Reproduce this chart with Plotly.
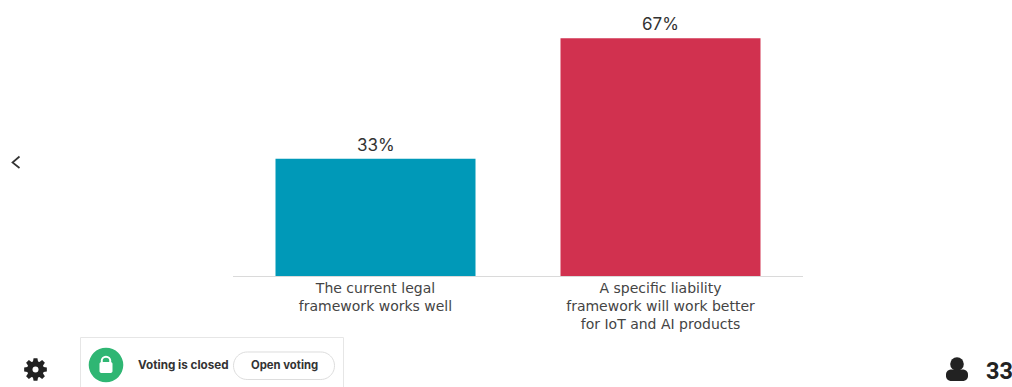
import math
import plotly.graph_objects as go

categories = ["The current legal<br>framework works well",
              "A specific liability<br>framework will work better<br>for IoT and AI products"]
shares = [33, 67]
bar_colors = ["#0099B8", "#D1314F"]
respondents = "33"

W, H = 1012, 387
LEFT, RIGHT, BASE = 233, 803, 276
FONT = "Inter, Roboto, sans-serif"
LABEL_FONT = "DejaVu Sans, sans-serif"


def fx(x):
    return (x - LEFT) / (RIGHT - LEFT)


def fy(y):
    return (BASE - y) / BASE


def poly(points, close=True):
    d = "M " + " L ".join(f"{fx(x):.5f},{fy(y):.5f}" for x, y in points)
    return d + " Z" if close else d


def ellipse(cx, cy, r, fill, line=None):
    return dict(type="circle", xref="paper", yref="paper",
                x0=fx(cx - r), x1=fx(cx + r), y0=fy(cy + r), y1=fy(cy - r),
                fillcolor=fill, line=dict(width=0) if line is None else line, layer="above")


def rect(x0, y0, x1, y1, fill, line=None):
    return dict(type="rect", xref="paper", yref="paper",
                x0=fx(x0), x1=fx(x1), y0=fy(y1), y1=fy(y0),
                fillcolor=fill, line=dict(width=0) if line is None else line, layer="above")


def rounded(x0, y0, x1, y1, r):
    pts = []
    for cx, cy, a0 in [(x1 - r, y0 + r, -90), (x1 - r, y1 - r, 0), (x0 + r, y1 - r, 90), (x0 + r, y0 + r, 180)]:
        for k in range(13):
            a = math.radians(a0 + k * 7.5)
            pts.append((cx + r * math.cos(a), cy + r * math.sin(a)))
    return pts


def gear(cx, cy, outer, inner, teeth=8):
    pts = []
    step = 2 * math.pi / teeth
    for i in range(teeth):
        a = i * step
        for da, r in [(-0.30, inner), (-0.17, outer), (0.17, outer), (0.30, inner)]:
            pts.append((cx + r * math.cos(a + da), cy + r * math.sin(a + da)))
    return pts


fig = go.Figure(go.Bar(
    x=categories, y=shares,
    marker=dict(color=bar_colors, line=dict(width=0)),
    hoverinfo="skip",
))

shapes = [
    # settings gear
    dict(type="path", xref="paper", yref="paper", path=poly(gear(35.5, 369.5, 11.5, 8.5)),
         fillcolor="#222222", line=dict(width=0), layer="above"),
    ellipse(35.5, 369.5, 3, "#ffffff"),
    # voting panel
    rect(80.5, 337.5, 343.5, 395, "#ffffff", dict(color="#E6E6E6", width=1)),
    ellipse(106, 365, 17.3, "#2FB673"),
    # padlock
    ellipse(106, 361, 4.3, "rgba(0,0,0,0)", dict(color="#ffffff", width=2)),
    dict(type="path", xref="paper", yref="paper", path=poly(rounded(99.5, 362, 112.5, 373, 2)),
         fillcolor="#ffffff", line=dict(width=0), layer="above"),
    # open-voting button
    dict(type="path", xref="paper", yref="paper", path=poly(rounded(233.5, 352, 334.5, 379.5, 13.7)),
         fillcolor="#ffffff", line=dict(color="#DDDDDD", width=1), layer="above"),
    # back chevron
    dict(type="path", xref="paper", yref="paper",
         path=poly([(19.5, 156.5), (12.5, 162.5), (19.5, 168)], close=False),
         fillcolor="rgba(0,0,0,0)", line=dict(color="#333333", width=1.7), layer="above"),
    # respondents icon
    ellipse(957, 364, 6.8, "#222222"),
    dict(type="path", xref="paper", yref="paper", path=poly(rounded(946, 369.5, 968, 381, 5)),
         fillcolor="#222222", line=dict(width=0), layer="above"),
]

annotations = [
    dict(text="<b>Voting is closed</b>", x=fx(138), y=fy(365), xanchor="left",
         font=dict(family=FONT, size=11.7, color="#333333")),
    dict(text="<b>Open voting</b>", x=fx(284), y=fy(365), xanchor="center",
         font=dict(family=FONT, size=11.3, color="#333333")),
    dict(text=f"<b>{respondents}</b>", x=fx(985.5), y=fy(370.5), xanchor="left",
         font=dict(family="Roboto, sans-serif", size=23.5, color="#222222")),
]
for a in annotations:
    a.update(xref="paper", yref="paper", yanchor="middle", showarrow=False, borderpad=0, borderwidth=0)

# value labels sit just above each bar
for cat, val in zip(categories, shares):
    annotations.append(dict(text=f"{val}%", x=cat, y=val, xref="x", yref="y",
                            xanchor="center", yanchor="bottom", yshift=4, showarrow=False,
                            borderpad=0, borderwidth=0,
                            font=dict(family=FONT, size=17, color="#333333")))

fig.update_layout(
    width=W, height=H, autosize=False,
    margin=dict(l=LEFT, r=W - RIGHT, t=0, b=H - BASE),
    paper_bgcolor="#ffffff", plot_bgcolor="#ffffff",
    bargap=85 / 285, showlegend=False,
    shapes=shapes, annotations=annotations,
    xaxis=dict(showline=True, linecolor="#DADADA", linewidth=1, ticks="", showgrid=False,
               tickfont=dict(family=LABEL_FONT, size=14, color="#444444"), tickangle=0,
               automargin=False, ticklabelstandoff=-1),
    yaxis=dict(visible=False, range=[0, BASE / 3.55], fixedrange=True),
)

fig.write_html("out.html", config=dict(displayModeBar=False))
